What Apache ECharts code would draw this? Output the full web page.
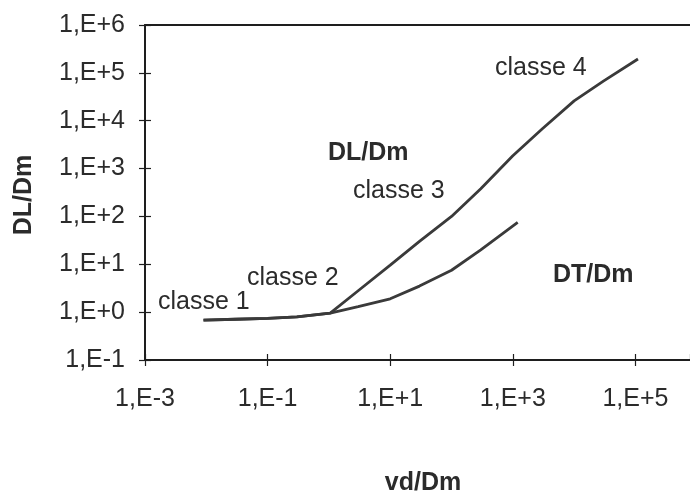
<!DOCTYPE html>
<html>
<head>
<meta charset="utf-8">
<script src="https://cdn.jsdelivr.net/npm/echarts@6/dist/echarts.min.js"></script>
<style>html,body{margin:0;padding:0;background:#fff;}#c{width:690px;height:495px;}</style>
</head>
<body>
<div id="c"></div>
<script>
// classe 1 (shared part of both curves)
var commonX = [0.009, 0.03, 0.1, 0.3, 1.05];
var commonY = [0.68, 0.71, 0.74, 0.8, 0.95];
// DL/Dm branch (classe 2 - 4)
var dlX = [3, 10, 30, 100, 300, 1000, 3000, 10000, 30000, 110000];
var dlY = [2.8, 9.6, 30, 100, 380, 1860, 6700, 26000, 67000, 195000];
// DT/Dm branch
var dtX = [3, 10, 30, 100, 300, 1200];
var dtY = [1.3, 1.9, 3.5, 7.5, 20, 75];
// axes
var xMin = 0.001, xMax = 776000;
var yMin = 0.1, yMax = 1000000;
var xTitle = 'vd/Dm';
var yTitle = 'DL/Dm';
var notes = ['classe 1', 'classe 2', 'classe 3', 'classe 4', 'DL/Dm', 'DT/Dm'];

function pairs(xs, ys) { return xs.map(function (x, i) { return [x, ys[i]]; }); }
var dlData = pairs(commonX, commonY).concat(pairs(dlX, dlY));
var dtData = pairs(commonX, commonY).concat(pairs(dtX, dtY));

function expLabel(v) {
  var e = Math.log10(v);
  var r = Math.round(e);
  if (Math.abs(e - r) > 1e-6) return '';
  return '1,E' + (r >= 0 ? '+' : '') + r;
}

var FONT = '"Liberation Sans", Arial, sans-serif';
var txt = '#2b2b2b';
var axisCol = '#1e1e1e';

var chart = echarts.init(document.getElementById('c'));
chart.setOption({
  backgroundColor: '#fff',
  animation: false,
  grid: { left: 145, top: 25, right: 0, bottom: 135, containLabel: false },
  xAxis: [
    { type: 'log', position: 'bottom', min: xMin, max: xMax, interval: 2,
      axisLine: { show: true, lineStyle: { color: axisCol, width: 2 } },
      axisTick: { show: true, inside: false, length: 6, lineStyle: { color: axisCol, width: 1.2 } },
      axisLabel: { formatter: expLabel, color: txt, fontSize: 25, fontFamily: FONT, margin: 27, showMaxLabel: false },
      splitLine: { show: false }, minorTick: { show: false } },
    { type: 'log', position: 'bottom', min: xMin, max: xMax, interval: 2,
      axisLine: { show: false },
      axisTick: { show: true, inside: true, length: 6, lineStyle: { color: axisCol, width: 1.2 } },
      axisLabel: { show: false }, splitLine: { show: false } },
    { type: 'log', position: 'top', min: xMin, max: xMax, interval: 2,
      axisLine: { show: true, lineStyle: { color: axisCol, width: 2 } },
      axisTick: { show: false }, axisLabel: { show: false }, splitLine: { show: false } }
  ],
  yAxis: [
    { type: 'log', position: 'left', min: yMin, max: yMax, interval: 1,
      axisLine: { show: true, lineStyle: { color: axisCol, width: 2 } },
      axisTick: { show: true, inside: false, length: 6, lineStyle: { color: axisCol, width: 1.2 } },
      axisLabel: { formatter: expLabel, color: txt, fontSize: 25, fontFamily: FONT, margin: 20 },
      splitLine: { show: false }, minorTick: { show: false } },
    { type: 'log', position: 'left', min: yMin, max: yMax, interval: 1,
      axisLine: { show: false },
      axisTick: { show: true, inside: true, length: 6, lineStyle: { color: axisCol, width: 1.2 } },
      axisLabel: { show: false }, splitLine: { show: false } }
  ],
  series: [
    { name: 'DL/Dm', type: 'line', xAxisIndex: 0, yAxisIndex: 0, data: dlData,
      showSymbol: false, symbol: 'none', smooth: false,
      lineStyle: { color: '#3a3a3a', width: 2.8 } },
    { name: 'DT/Dm', type: 'line', xAxisIndex: 0, yAxisIndex: 0, data: dtData,
      showSymbol: false, symbol: 'none', smooth: false,
      lineStyle: { color: '#3a3a3a', width: 2.8 } }
  ],
  graphic: [
    { type: 'text', x: 158, y: 302, style: { text: notes[0], font: '25px ' + FONT, fill: txt, textVerticalAlign: 'middle' } },
    { type: 'text', x: 247, y: 278, style: { text: notes[1], font: '25px ' + FONT, fill: txt, textVerticalAlign: 'middle' } },
    { type: 'text', x: 353, y: 191, style: { text: notes[2], font: '25px ' + FONT, fill: txt, textVerticalAlign: 'middle' } },
    { type: 'text', x: 495, y: 68, style: { text: notes[3], font: '25px ' + FONT, fill: txt, textVerticalAlign: 'middle' } },
    { type: 'text', x: 328, y: 153, style: { text: notes[4], font: 'bold 25px ' + FONT, fill: txt, textVerticalAlign: 'middle' } },
    { type: 'text', x: 553, y: 275, style: { text: notes[5], font: 'bold 25px ' + FONT, fill: txt, textVerticalAlign: 'middle' } },
    { type: 'text', x: 423, y: 483, style: { text: xTitle, font: 'bold 25px ' + FONT, fill: txt, textAlign: 'center', textVerticalAlign: 'middle' } },
    { type: 'text', x: 24, y: 195, rotation: Math.PI / 2, style: { text: yTitle, font: 'bold 25px ' + FONT, fill: txt, textAlign: 'center', textVerticalAlign: 'middle' } }
  ]
});
</script>
</body>
</html>
